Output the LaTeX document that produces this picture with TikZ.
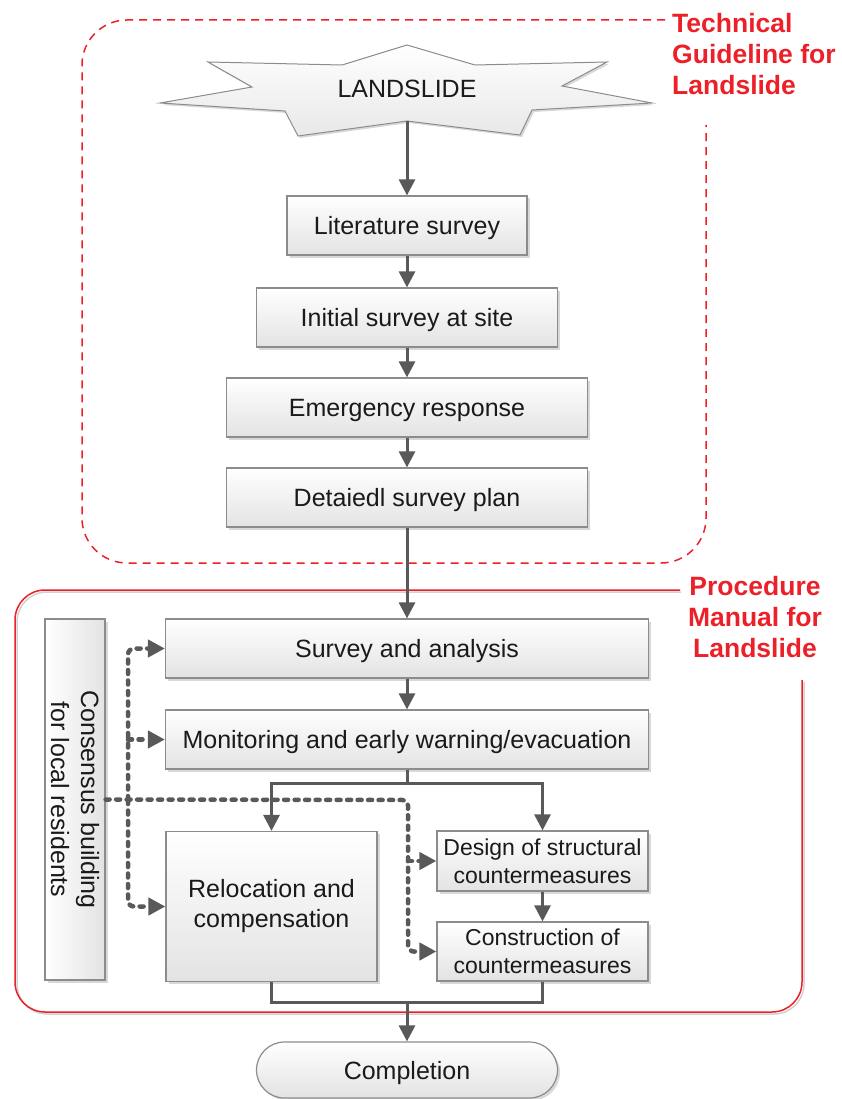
\documentclass[tikz,border=0pt]{standalone}
\usepackage{fontspec}
\setmainfont{Liberation Sans}
\usetikzlibrary{arrows.meta,shadows}
\definecolor{linegray}{HTML}{595959}
\definecolor{boxedge}{HTML}{8C8C8C}
\definecolor{framered}{RGB}{236,32,40}
\definecolor{textdark}{HTML}{1A1A1A}
\begin{document}
\begin{tikzpicture}[x=1pt,y=-1pt,node distance=90pt]
\tikzstyle{box}=[draw=boxedge,line width=1.2pt,top color=white,bottom color=gray!22,
  drop shadow={shadow xshift=2.5pt,shadow yshift=-2.5pt,fill=gray!60,opacity=.5},
  minimum height=59pt,align=center,text=textdark,inner sep=2pt,
  font=\fontsize{25}{30}\selectfont]
\tikzstyle{oneline}=[text height=18pt,text depth=0pt]
\tikzstyle{small}=[font=\fontsize{23}{28}\selectfont]
\tikzstyle{link}=[draw=linegray,line width=3pt]
\tikzstyle{conn}=[link,-{Triangle[length=16pt,width=16pt]}]
\tikzstyle{dlink}=[draw=linegray,line width=4.5pt,line cap=round,dash pattern=on 4pt off 6.5pt]
\tikzstyle{dconn}=[dlink,-{Triangle[length=17pt,width=17pt]}]
\tikzstyle{tag}=[text=framered,inner sep=0pt,font=\fontsize{26.5}{31}\selectfont\bfseries]
\useasboundingbox (0,0) rectangle (842,1099);
% frames
\draw[framered,line width=1.5pt,dash pattern=on 8pt off 6pt,rounded corners=45pt]
  (665,20) -- (82,20) -- (82,563) -- (706,563) -- (706,125);
\draw[gray!35,line width=1.5pt,rounded corners=30pt]
  (681,592) -- (17,592) -- (17,1014) -- (804,1014) -- (804,682);
\draw[framered,line width=1.5pt,rounded corners=30pt]
  (680,590) -- (15,590) -- (15,1012) -- (802,1012) -- (802,680);
\node[tag,anchor=north west,align=left] (guide) at (672,13.5) {Technical\\Guideline for\\Landslide};
\node[tag,anchor=north,align=center] (manual) at (755,576) {Procedure\\Manual for\\Landslide};
% landslide star
\draw[draw=boxedge,line width=1pt,top color=white,bottom color=gray!18,
  drop shadow={shadow xshift=2pt,shadow yshift=-2pt,fill=gray!60,opacity=.5}]
  (407,45) -- (475,65) -- (607,62) -- (562,86) -- (652,103) -- (532,110) -- (520,135)
  -- (407,121) -- (298,136) -- (285,111) -- (160,103) -- (252,87) -- (208,62)
  -- (342,65) -- cycle;
\node[text=textdark,oneline,font=\fontsize{25}{30}\selectfont] (star) at (407,89) {LANDSLIDE};
\coordinate (startip) at (407,121);
% upper column
\node[box,oneline,minimum width=240pt] (lit) at (407,225.5) {Literature survey};
\node[box,oneline,minimum width=301pt,below of=lit,node distance=92pt] (init) {Initial survey at site};
\node[box,oneline,minimum width=361pt,below of=init] (emerg) {Emergency response};
\node[box,oneline,minimum width=361pt,below of=emerg] (plan) {Detaiedl survey plan};
% lower part
\node[box,oneline,minimum width=483pt,below of=plan,node distance=151pt] (survey) {Survey and analysis};
\node[box,oneline,minimum width=483pt,below of=survey,node distance=91pt] (monit) {Monitoring and early warning/evacuation};
\node[box,minimum width=211pt,minimum height=150pt] (reloc) at (271.5,906.5) {Relocation and\\compensation};
\node[box,small,minimum width=211pt,minimum height=60pt] (design) at (542.5,861) {Design of structural\\countermeasures};
\node[box,small,minimum width=211pt,minimum height=59pt] (constr) at (542.5,951.5) {Construction of\\countermeasures};
\node[box,rotate=-90,left color=white,right color=gray!22,minimum width=361pt,minimum height=60pt] (consensus) at (75,799.5) {Consensus building\\for local residents};
\node[box,oneline,rounded corners=28pt,minimum width=301pt,minimum height=56pt] (compl) at (407,1070) {Completion};
\coordinate (split) at (407,783);
\coordinate (join) at (407,1002);
\coordinate (dleft) at (128,800);
\coordinate (dright) at (408,800);
% connectors
\draw[conn] (startip) -- (lit);
\draw[conn] (lit) -- (init);
\draw[conn] (init) -- (emerg);
\draw[conn] (emerg) -- (plan);
\draw[conn] (plan) -- (survey);
\draw[conn] (survey) -- (monit);
\draw[link] (monit) -- (split);
\draw[conn] (split) -| (reloc);
\draw[conn] (split) -| (design);
\draw[conn] (design) -- (constr);
\draw[link] (reloc.south) |- (join) -| (constr.south);
\draw[conn] (join) -- (compl);
% consensus links
\draw[dconn,rounded corners=6pt] (consensus.north) -- (dright) |- (constr.west);
\draw[dconn] (dright |- design.west) -- (design.west);
\draw[dconn,rounded corners=6pt] (dleft) |- (survey.west);
\draw[dconn] (dleft |- monit.west) -- (monit.west);
\draw[dconn,rounded corners=6pt] (dleft) |- (reloc.west);
\end{tikzpicture}
\end{document}
